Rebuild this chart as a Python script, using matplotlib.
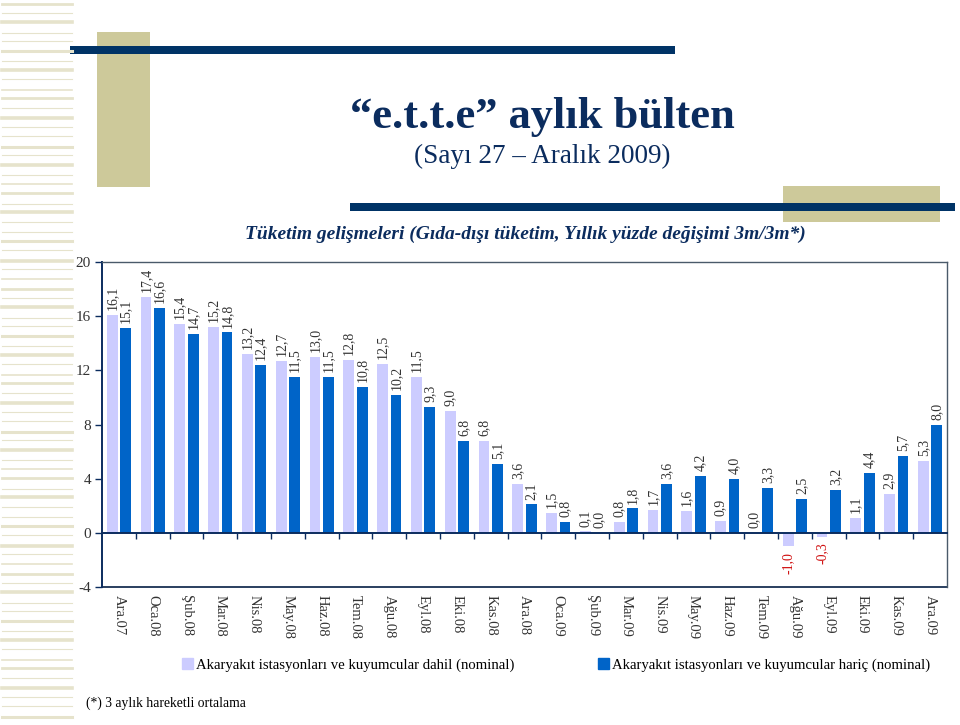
import numpy as np
import matplotlib.pyplot as plt
from matplotlib.patches import Rectangle, Patch
from matplotlib.lines import Line2D

plt.rcParams['font.family'] = ['Liberation Serif', 'DejaVu Serif']
plt.rcParams['axes.unicode_minus'] = False

# ----- data -----
months = ['Ara.07', 'Oca.08', 'Şub.08', 'Mar.08', 'Nis.08', 'May.08', 'Haz.08', 'Tem.08',
          'Ağu.08', 'Eyl.08', 'Eki.08', 'Kas.08', 'Ara.08', 'Oca.09', 'Şub.09', 'Mar.09',
          'Nis.09', 'May.09', 'Haz.09', 'Tem.09', 'Ağu.09', 'Eyl.09', 'Eki.09', 'Kas.09', 'Ara.09']
dahil = [16.1, 17.4, 15.4, 15.2, 13.2, 12.7, 13.0, 12.8, 12.5, 11.5, 9.0, 6.8, 3.6,
         1.5, 0.1, 0.8, 1.7, 1.6, 0.9, 0.0, -1.0, -0.3, 1.1, 2.9, 5.3]
haric = [15.1, 16.6, 14.7, 14.8, 12.4, 11.5, 11.5, 10.8, 10.2, 9.3, 6.8, 5.1, 2.1,
         0.8, 0.0, 1.8, 3.6, 4.2, 4.0, 3.3, 2.5, 3.2, 4.4, 5.7, 8.0]
name_dahil = 'Akaryakıt istasyonları ve kuyumcular dahil (nominal)'
name_haric = 'Akaryakıt istasyonları ve kuyumcular hariç (nominal)'
yticks = [-4, 0, 4, 8, 12, 16, 20]

NAVY = '#0b2c5e'
TAN = '#cdc99a'
LIGHT = '#ccccff'
DARK = '#0064c8'

W, H = 960, 725
fig = plt.figure(figsize=(W / 100, H / 100), dpi=100)

def fx(x): return x / W
def fy(y): return 1 - y / H

# ----- page decoration -----
pattern = [2.0, 0.8, 2.6, 0.8, 0.8, 2.2, 0.8, 2.6, 0.8, 1.2]
y = 4
k = 0
while y < H:
    fig.add_artist(Line2D([fx(2), fx(72)], [fy(y), fy(y)], color='#e6e3cc',
                          lw=pattern[k % len(pattern)]))
    y += 8.5 + (k % 3)
    k += 1
fig.add_artist(Rectangle((fx(97), fy(187)), fx(53), 155 / H, color=TAN, lw=0))
fig.add_artist(Rectangle((fx(783), fy(222)), fx(157), 36 / H, color=TAN, lw=0))
fig.add_artist(Rectangle((fx(70), fy(54)), fx(605), 8 / H, color='#003366', lw=0))
fig.add_artist(Rectangle((fx(350), fy(211)), fx(605), 8 / H, color='#003366', lw=0))

fig.text(fx(542), fy(117), '“e.t.t.e” aylık bülten', ha='center', va='center',
         fontsize=32, fontweight='bold', color=NAVY)
fig.text(fx(542), fy(156), '(Sayı 27 – Aralık 2009)', ha='center', va='center',
         fontsize=19.5, color=NAVY)
fig.text(fx(525), fy(234), 'Tüketim gelişmeleri (Gıda-dışı tüketim, Yıllık yüzde değişimi 3m/3m*)',
         ha='center', va='center', fontsize=14, fontweight='bold', fontstyle='italic', color=NAVY)

# ----- chart -----
ax = fig.add_axes([fx(102), fy(587), fx(947 - 102), (587 - 262) / H])
x = np.arange(len(months))
bw = 0.32
b1 = ax.bar(x - 0.2, dahil, bw, color=LIGHT, label=name_dahil, zorder=2)
b2 = ax.bar(x + 0.2, haric, bw, color=DARK, label=name_haric, zorder=2)

for bars, vals in ((b1, dahil), (b2, haric)):
    for r, v in zip(bars, vals):
        txt = f'{v:.1f}'.replace('.', ',')
        if v < 0:
            ax.annotate(txt, (r.get_x() + r.get_width() / 2, v), xytext=(0, -4),
                        textcoords='offset points', ha='center', va='top', rotation=90,
                        fontsize=10, color='#d01010')
        else:
            ax.annotate(txt, (r.get_x() + r.get_width() / 2, v), xytext=(0, 3.5),
                        textcoords='offset points', ha='center', va='bottom', rotation=90,
                        fontsize=10, color='#333333')

ax.set_xlim(-0.5, len(months) - 0.5)
ax.set_ylim(-4, 20)
ax.set_yticks(yticks)
ax.tick_params(axis='y', direction='out', length=5, width=1, color=NAVY,
               labelsize=11, labelcolor='#333333', pad=3)

for s in ('top', 'right'):
    ax.spines[s].set_color('#4a5a6a')
    ax.spines[s].set_linewidth(1)
ax.spines['left'].set_color(NAVY)
ax.spines['left'].set_linewidth(1.4)
ax.spines['bottom'].set_position(('data', 0))
ax.spines['bottom'].set_color(NAVY)
ax.spines['bottom'].set_linewidth(1.4)
ax.set_xticks(x)
ax.set_xticks(x[:-1] + 0.5, minor=True)
ax.tick_params(axis='x', which='major', length=0, labelbottom=False)
ax.tick_params(axis='x', which='minor', direction='out', length=4, width=1, color=NAVY)

sec = ax.secondary_xaxis('bottom')
sec.set_xticks(x, labels=months, rotation=270, fontsize=10.5, color='#333333')
sec.tick_params(length=0, pad=6)
sec.spines['bottom'].set_color('#2a3f5f')
sec.spines['bottom'].set_linewidth(1.4)

fig.legend(handles=[Patch(color=LIGHT)], labels=[name_dahil], loc='center left',
           bbox_to_anchor=(fx(175), fy(665)), frameon=False, fontsize=10.6,
           handlelength=0.7, handleheight=0.7, handletextpad=0.25, borderpad=0)
fig.legend(handles=[Patch(color=DARK)], labels=[name_haric], loc='center left',
           bbox_to_anchor=(fx(591), fy(665)), frameon=False, fontsize=10.6,
           handlelength=0.7, handleheight=0.7, handletextpad=0.25, borderpad=0)

fig.text(fx(86), fy(703), '(*) 3 aylık hareketli ortalama', ha='left', va='center', fontsize=9.8)

fig.savefig('out.png', dpi=100)
